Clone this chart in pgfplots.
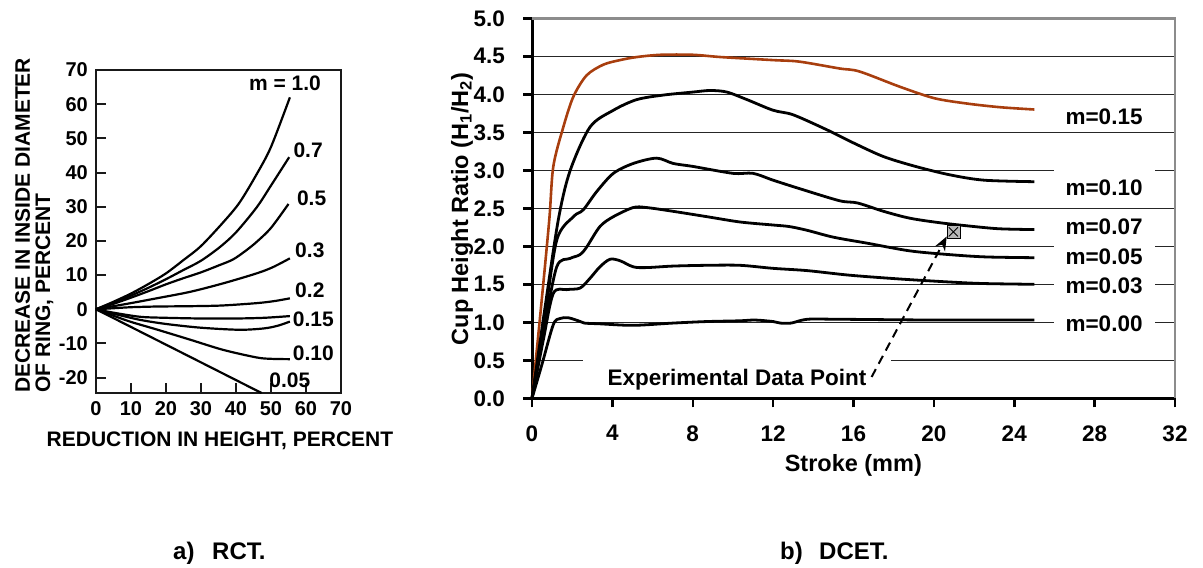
\documentclass[border=0pt]{standalone}
\usepackage{fontspec}
\setmainfont{Liberation Sans}
\usepackage{pgfplots}
\pgfplotsset{compat=1.18}
\usetikzlibrary{arrows.meta}
\newcommand{\fs}[1]{\fontsize{#1}{#1}\selectfont}
\definecolor{rust}{RGB}{168,62,14}
\definecolor{ink}{RGB}{25,25,25}

\begin{document}
\begin{tikzpicture}
% ---------- (a) RCT calibration curves ----------
\begin{axis}[at={(96pt,-393pt)}, anchor=south west, scale only axis,
  width=245pt, height=323pt, xmin=0, xmax=70, ymin=-24.5, ymax=70,
  xtick={0,10,20,30,40,50,60,70}, ytick={-20,-10,0,10,20,30,40,50,60,70},
  axis line style={ink, line width=2.2pt},
  tick align=inside, major tick length=10pt,
  xtick pos=bottom, ytick pos=left,
  tick style={ink, line width=2pt},
  /pgf/number format/assume math mode=true,
  ticklabel style={font=\bfseries\fs{20}, inner sep=0pt},
  xticklabel style={yshift=-8pt}, yticklabel style={xshift=-8pt},
  clip=false]
\addplot[black, line width=2.2pt, smooth] coordinates {(0,0) (5,2.2) (10,4.6) (15,7.4) (20,10.5) (25,14.4) (30,18.5) (36.4,25.5) (41,31.2) (45.9,39.5) (50,47.5) (55.4,62)};
\addplot[black, line width=2.2pt, smooth] coordinates {(0,0) (5,1.9) (10,4) (15,6.3) (20,8.8) (25,11.5) (30,14.2) (35.4,18.2) (40,22.5) (45.9,29.8) (50,36.2) (55.2,44.5)};
\addplot[black, line width=2.2pt, smooth] coordinates {(0,0) (5,1.6) (10,3.4) (15,5.3) (20,7.3) (25,9.1) (30,10.8) (35,12.8) (39.2,14.6) (43,17.3) (46,19.8) (50,23.8) (55,30.8)};
\addplot[black, line width=2.2pt, smooth] coordinates {(0,0) (5,0.9) (10,1.8) (17.3,3.2) (26.9,5.1) (36.4,7.6) (45.9,10.5) (50.5,12.3) (55.4,14.9)};
\addplot[black, line width=2.2pt, smooth] coordinates {(0,0) (5,0.3) (10,0.6) (17.3,0.8) (27,0.9) (36,1.1) (46,1.8) (51,2.4) (55.4,3.2)};
\addplot[black, line width=2.2pt, smooth] coordinates {(0,0) (5,-1.0) (12.6,-2.2) (20,-2.5) (30,-2.7) (40,-2.7) (48,-2.5) (55.4,-2.0)};
\addplot[black, line width=2.2pt, smooth] coordinates {(0,0) (5,-1.3) (12.6,-3.1) (20,-4.3) (30,-5.4) (41,-6.0) (48,-5.6) (52,-4.8) (55.4,-3.6)};
\addplot[black, line width=2.2pt, smooth] coordinates {(0,0) (5,-1.9) (10,-3.7) (17.3,-5.9) (26.9,-8.9) (36.4,-11.9) (45.9,-14.1) (50,-14.5) (55.4,-14.6)};
\addplot[black, line width=2.2pt] coordinates {(0,0) (47.3,-24.5)};
\begin{scope}[every node/.style={font=\bfseries\fs{21}, inner sep=0pt}]
\node at (axis cs:54,66.2) {m = 1.0};
\node at (axis cs:60.6,46.6) {0.7};
\node at (axis cs:61.6,32.5) {0.5};
\node at (axis cs:61.1,17.3) {0.3};
\node at (axis cs:61.1,5.6) {0.2};
\node at (axis cs:62.1,-2.9) {0.15};
\node at (axis cs:62.1,-12.9) {0.10};
\node at (axis cs:55.4,-20.7) {0.05};
\end{scope}
\end{axis}
\begin{scope}[every node/.style={font=\bfseries\fs{21}, inner sep=0pt}]
\node[rotate=90, anchor=base west] at (30pt,-393pt) {DECREASE IN INSIDE DIAMETER};
\node[rotate=90, anchor=base west] at (50pt,-393pt) {OF RING, PERCENT};
\node[anchor=base] at (220pt,-446pt) {REDUCTION IN HEIGHT, PERCENT};
\end{scope}

% ---------- (b) DCET cup height ratio ----------
\begin{axis}[at={(532pt,-398.3pt)}, anchor=south west, scale only axis,
  width=643pt, height=380pt, xmin=0, xmax=32, ymin=0, ymax=5,
  xtick={0,4,...,32}, ytick={0,0.5,1,1.5,2,2.5,3,3.5,4,4.5,5},
  axis lines*=left, axis line style={-, line width=3pt, black},
  ymajorgrids, grid style={black!85, line width=1pt},
  tick align=outside, major tick length=9pt, tick style={black, line width=2.5pt},
  /pgf/number format/assume math mode=true,
  ticklabel style={font=\bfseries\fs{22.5}, inner sep=0pt},
  xticklabel style={yshift=-18pt},
  yticklabel style={xshift=-18pt, /pgf/number format/fixed, /pgf/number format/fixed zerofill, /pgf/number format/precision=1},
  clip=false]
\draw[black!45, line width=2.5pt] (rel axis cs:0,1) -- (rel axis cs:1,1) -- (rel axis cs:1,0);
% m=0.15
\addplot[rust, line width=2.6pt, smooth] coordinates {(0,0) (0.45,1.2) (0.86,2.35) (1.06,3.05) (1.56,3.57) (2.06,3.97) (2.72,4.25) (3.55,4.39) (4.38,4.45) (5.21,4.49) (6.4,4.52) (8,4.52) (9.4,4.49) (12,4.45) (13.3,4.43) (15.3,4.34) (16.3,4.30) (18.3,4.10) (20,3.95) (21.6,3.88) (23.3,3.83) (25,3.80)};
% m=0.10
\addplot[black, line width=2.8pt, smooth] coordinates {(0,0) (0.65,1.2) (1.31,2.35) (1.89,2.99) (2.89,3.57) (4.05,3.79) (5.21,3.93) (6.54,3.99) (8.03,4.03) (8.86,4.05) (9.69,4.03) (10.7,3.93) (12.0,3.79) (13.0,3.73) (14.7,3.53) (16.0,3.36) (17.5,3.18) (19.1,3.05) (20.8,2.94) (22.5,2.87) (25.0,2.85)};
% m=0.07
\addplot[black, line width=2.8pt, smooth] coordinates {(0,0) (0.6,1.0) (1.23,2.08) (2.06,2.39) (2.55,2.48) (3.22,2.72) (4.05,2.96) (5.04,3.09) (6.2,3.16) (7.03,3.09) (8.03,3.05) (10.0,2.96) (11.0,2.96) (12.0,2.87) (13.3,2.76) (15.3,2.60) (16.2,2.57) (17.5,2.46) (18.8,2.37) (20.3,2.31) (22.0,2.26) (23.3,2.23) (25.0,2.22)};
% m=0.05
\addplot[black, line width=2.8pt, smooth] coordinates {(0,0) (0.6,0.9) (1.23,1.73) (1.89,1.84) (2.39,1.89) (2.72,1.99) (3.38,2.26) (4.05,2.39) (5.04,2.51) (5.7,2.51) (7.03,2.46) (8.7,2.39) (10.35,2.32) (12.0,2.28) (12.8,2.26) (13.7,2.21) (15.0,2.12) (16.7,2.04) (18.8,1.94) (20.8,1.89) (22.6,1.86) (25.0,1.85)};
% m=0.03
\addplot[black, line width=2.8pt, smooth] coordinates {(0,0) (0.55,0.75) (1.06,1.38) (1.73,1.43) (2.39,1.45) (2.89,1.58) (3.38,1.73) (3.88,1.83) (4.38,1.81) (5.04,1.73) (5.7,1.72) (7.03,1.74) (8.7,1.75) (10.35,1.75) (12.0,1.71) (13.7,1.68) (15.8,1.62) (18.3,1.57) (20.8,1.53) (22.5,1.51) (25.0,1.50)};
% m=0.00
\addplot[black, line width=2.8pt, smooth] coordinates {(0,0) (0.5,0.45) (1.06,0.97) (1.4,1.05) (1.8,1.06) (2.3,1.02) (2.6,0.99) (3.38,0.98) (5.04,0.96) (7.03,0.99) (8.7,1.01) (10.35,1.02) (11.1,1.03) (12.0,1.01) (12.35,0.99) (12.9,0.99) (13.7,1.04) (15.3,1.04) (20,1.03) (25,1.03)};
% experimental point
\addplot[only marks, mark=square*, mark size=6.5pt, mark options={fill=black!28, draw=none}] coordinates {(20.97,2.19)};
\addplot[only marks, mark=x, mark size=6.5pt, mark options={black, line width=0.8pt}] coordinates {(20.97,2.19)};
\begin{scope}[every node/.style={anchor=base, fill=white, inner xsep=12pt, inner ysep=0pt, text height=26pt, text depth=6pt, font=\bfseries\fs{22.5}}]
\node at (axis cs:28.47,3.600) {m=0.15};
\node at (axis cs:28.47,2.671) {m=0.10};
\node at (axis cs:28.47,2.153) {m=0.07};
\node at (axis cs:28.47,1.767) {m=0.05};
\node at (axis cs:28.47,1.376) {m=0.03};
\node at (axis cs:28.47,0.882) {m=0.00};
\node[inner xsep=25pt, text height=27pt] at (axis cs:10.2,0.162) {Experimental Data Point};
\end{scope}
\draw[black, line width=2pt, dash pattern=on 9pt off 6pt, -{Stealth[length=14pt, width=11pt]}] (axis cs:16.9,0.28) -- (axis cs:20.64,2.13);
\end{axis}
\node[rotate=90, anchor=base, inner sep=0pt, font=\bfseries\fs{23.5}] at (468pt,-209pt) {Cup Height Ratio (H\textsubscript{1}/H\textsubscript{2})};
\node[anchor=base, inner sep=0pt, font=\bfseries\fs{23.5}] at (853.3pt,-471.4pt) {Stroke (mm)};

% ---------- captions ----------
\begin{scope}[every node/.style={anchor=base west, inner sep=0pt, font=\bfseries\fs{24}}]
\node at (173pt,-559pt) {a)};
\node at (212pt,-559pt) {RCT.};
\node at (780pt,-559pt) {b)};
\node at (819pt,-559pt) {DCET.};
\end{scope}
\path[use as bounding box] (0,0) rectangle (1203pt,-568pt);
\end{tikzpicture}
\end{document}
